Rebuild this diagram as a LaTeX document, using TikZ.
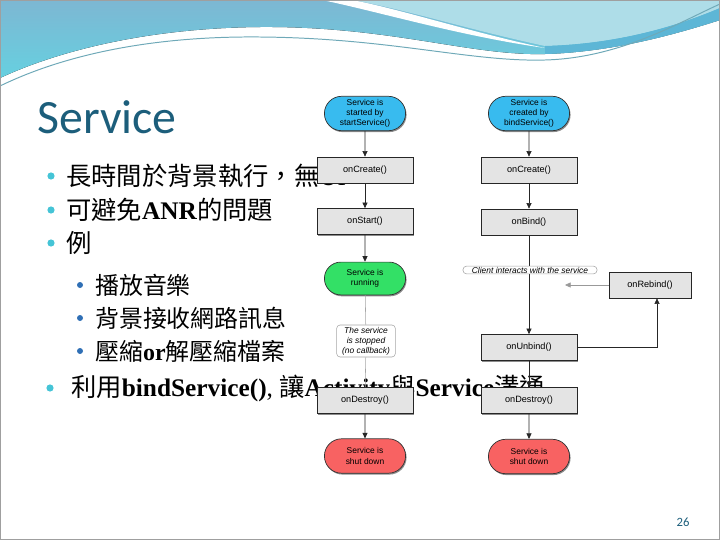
\documentclass[tikz,border=0pt]{standalone}
\usepackage{fontspec}
\setmainfont{Liberation Serif}
\newfontfamily\cjkfont{Noto Sans CJK TC}
\newfontfamily\titlefont{Carlito}
\newfontfamily\diafont{Liberation Sans}
\usetikzlibrary{arrows.meta,positioning,shapes.misc,shadows}
\definecolor{svtitle}{HTML}{1C5E7B}
\definecolor{hdtop}{HTML}{7DB7D3}
\definecolor{hdcyan}{HTML}{66D0E0}
\definecolor{hdlight}{HTML}{AEDDE8}
\definecolor{hdband}{HTML}{5DB6D6}
\definecolor{hdline}{HTML}{6FA9B8}
\definecolor{dotcyan}{HTML}{45C4D6}
\definecolor{dotblue}{HTML}{2F6FB5}
\definecolor{pillblue}{HTML}{38BBEF}
\definecolor{pillgreen}{HTML}{33E066}
\definecolor{pillred}{HTML}{F86262}
\definecolor{boxgray}{HTML}{E4E4E4}
\newcommand{\zh}[1]{{\cjkfont #1}}
\newcommand{\en}[1]{{\bfseries #1}}

\begin{document}
\begin{tikzpicture}[
    x=0.25mm, y=-0.25mm,
    boxshadow/.style={drop shadow={shadow xshift=0.7pt, shadow yshift=-1pt, opacity=0.45, fill=black}},
    pill/.style={
        rounded rectangle, draw=black!80, line width=0.5pt,
        minimum width=21mm, minimum height=8.6mm, inner sep=1pt,
        align=center, font=\diafont\fontsize{6}{7.2}\selectfont, boxshadow
    },
    box/.style={
        rectangle, draw=black!85, fill=boxgray, line width=0.5pt,
        minimum width=24mm, minimum height=6.5mm, inner sep=1pt,
        font=\diafont\fontsize{6.5}{7.5}\selectfont, boxshadow
    },
    remark/.style={
        draw=gray!70, fill=white, line width=0.4pt, inner sep=1pt,
        align=center, font=\diafont\itshape\fontsize{6}{7.2}\selectfont
    },
    flow/.style={-{Triangle[length=4pt,width=3.6pt]}, line width=0.5pt, black!85},
    faint/.style={line width=0.4pt, gray!70},
    bigdot/.style={circle, fill=dotcyan, minimum size=1.8mm, inner sep=0pt},
    smalldot/.style={circle, fill=dotblue, minimum size=1.5mm, inner sep=0pt},
    item/.style={anchor=west, inner sep=0pt, font=\fontsize{18}{21}\selectfont},
    subitem/.style={anchor=west, inner sep=0pt, font=\fontsize{17}{20}\selectfont}
]
\useasboundingbox (0,0) rectangle (720,540);

% Header waves.
\fill[top color=hdtop, bottom color=hdcyan] (0,0) -- (0,78)
    .. controls (60,50) and (150,28) .. (260,27)
    .. controls (390,26) and (470,56) .. (545,54)
    .. controls (610,52) and (670,36) .. (720,20) -- (720,0) -- cycle;
\fill[hdlight] (352,0) .. controls (400,8) and (470,30) .. (545,46)
    .. controls (620,44) and (680,25) .. (720,8) -- (720,0) -- cycle;
\fill[white] (322,0) .. controls (380,12) and (460,36) .. (545,48)
    .. controls (470,32) and (400,9) .. (352,0) -- cycle;
\fill[hdband] (545,46) .. controls (620,44) and (680,25) .. (720,8) -- (720,20)
    .. controls (670,36) and (610,52) .. (545,54) -- cycle;
\draw[hdline, line width=0.7pt] (0,86) .. controls (70,52) and (160,36) .. (260,37)
    .. controls (390,38) and (470,62) .. (545,60)
    .. controls (620,58) and (680,22) .. (720,4);
\draw[gray!75, line width=0.8pt] (0,0) rectangle (720,540);

% Title and bullets.
\node[anchor=base west, inner sep=0pt, text=svtitle, font=\titlefont\fontsize{34}{34}\selectfont]
    (title) at (37,133) {Service};
\node[bigdot] (d1) at (51,176) {};
\node[item] (t1) at (66,176) {\zh{長時間於背景執行，無}UI};
\node[bigdot] (d2) at (51,210) {};
\node[item] (t2) at (66,210) {\zh{可避免}\en{ANR}\zh{的問題}};
\node[bigdot] (d3) at (51,243) {};
\node[item] (t3) at (66,243) {\zh{例}};
\foreach \i/\y/\txt in {1/285/{\zh{播放音樂}}, 2/318/{\zh{背景接收網路訊息}}, 3/351/{\zh{壓縮}\en{or}\zh{解壓縮檔案}}} {
    \node[smalldot] (s\i) at (80,\y) {};
    \node[subitem] (u\i) at (95,\y) {\txt};
}
\node[bigdot] (d4) at (50,388) {};
\node[item] (t4) at (71,388) {\zh{利用}\en{bindService()}, \zh{讓}\en{Activity}\zh{與}\en{Service}\zh{溝通}};

% startService() lifecycle.
\node[pill, fill=pillblue] (started) at (365,113.5) {Service is\\started by\\startService()};
\node[box] (lcreate) at (365,170) {onCreate()};
\node[box] (lstart) at (365,221.5) {onStart()};
\node[pill, fill=pillgreen, minimum height=8.2mm] (running) at (365,278.5) {Service is\\running};
\node[remark, rounded corners=2.5pt, minimum width=14.7mm, minimum height=8mm] (stopped) at (366,341)
    {The service\\is stopped\\(no callback)};
\node[box] (ldestroy) at (365,400.5) {onDestroy()};
\node[pill, fill=pillred] (lshut) at (365,456) {Service is\\shut down};
\draw[flow] (started) -- (lcreate);
\draw[flow] (lcreate) -- (lstart);
\draw[flow] (lstart) -- (running);
\draw[faint] (running) -- (stopped);
\draw[faint] (stopped) -- (ldestroy);
\draw[flow] (ldestroy) -- (lshut);

% bindService() lifecycle.
\node[pill, fill=pillblue] (created) at (529,113.5) {Service is\\created by\\bindService()};
\node[box] (rcreate) at (529,170) {onCreate()};
\node[box] (rbind) at (529,222) {onBind()};
\node[box] (unbind) at (529,347.5) {onUnbind()};
\node[box, minimum width=20.5mm] (rebind) at (650,285) {onRebind()};
\node[box] (rdestroy) at (529,400.5) {onDestroy()};
\node[pill, fill=pillred] (rshut) at (529,456.5) {Service is\\shut down};
\coordinate (rebindend) at (565,285);
\draw[flow] (created) -- (rcreate);
\draw[flow] (rcreate) -- (rbind);
\draw[flow] (rbind) -- (unbind);
\draw[flow] (unbind) -- (rdestroy);
\draw[flow] (rdestroy) -- (rshut);
\draw[flow, gray!80, line width=0.4pt] (rebind.west) -- (rebindend);
\draw[flow, line width=0.4pt] (unbind.east) -| ([xshift=1.75mm]rebind.south);
\node[remark, rounded rectangle, minimum width=34mm, inner sep=0.6pt] (client) at (530,270)
    {Client interacts with the service};

\node[inner sep=0pt, text=svtitle, font=\titlefont\fontsize{9}{9}\selectfont] (pagenum) at (683,522) {26};
\end{tikzpicture}
\end{document}
